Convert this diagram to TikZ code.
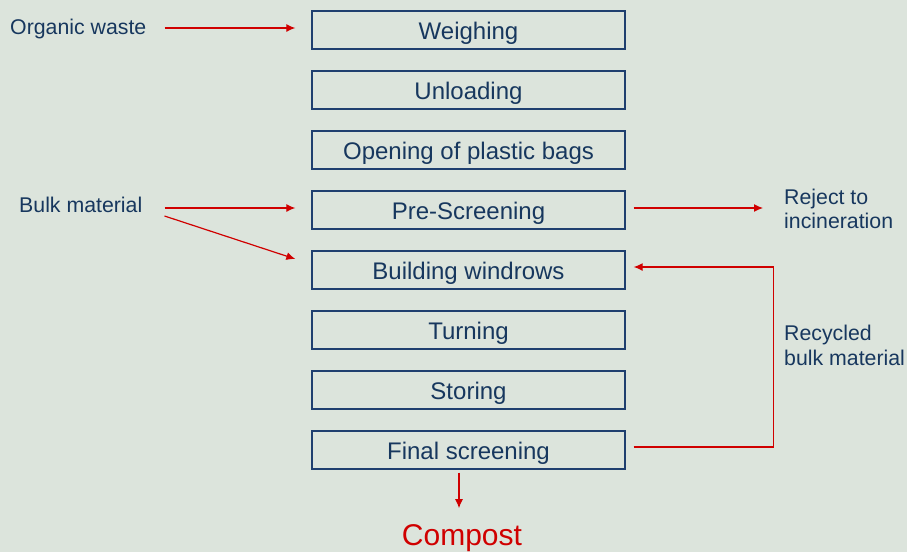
\documentclass[tikz,border=0pt]{standalone}
\usepackage{fontspec}
\setmainfont{Liberation Sans}
\usetikzlibrary{arrows.meta}
\definecolor{bg}{RGB}{220,228,220}
\definecolor{txtblue}{RGB}{23,55,94}
\definecolor{boxblue}{RGB}{31,63,111}
\definecolor{arrred}{RGB}{208,0,0}
\tikzset{
  stepbox/.style={draw=boxblue, line width=1.3pt, minimum width=313pt, minimum height=38pt, inner sep=0pt, text height=20pt, text depth=1.5pt, text=txtblue, font=\fontsize{24}{28}\selectfont},
  sidelabel/.style={anchor=west, inner sep=0pt, text=txtblue, align=left, font=\fontsize{21.3}{24.5}\selectfont},
  arr/.style={draw=arrred, line width=1.2pt, -{Latex[length=9pt,width=8pt]}},
}
\begin{document}
\begin{tikzpicture}[x=1pt,y=-1pt]
\fill[bg] (0,0) rectangle (907,552);
\useasboundingbox (0,0) rectangle (907,552);
\node[stepbox] (w) at (468.5,30) {Weighing};
\node[stepbox] (u) at (468.5,90) {Unloading};
\node[stepbox] (o) at (468.5,150) {Opening of plastic bags};
\node[stepbox] (p) at (468.5,210) {Pre-Screening};
\node[stepbox] (b) at (468.5,270) {Building windrows};
\node[stepbox] (t) at (468.5,330) {Turning};
\node[stepbox] (s) at (468.5,390) {Storing};
\node[stepbox] (f) at (468.5,450) {Final screening};
\node[sidelabel] (org) at (10,28.5) {Organic waste};
\node[sidelabel] (bulk) at (19,205) {Bulk material};
\node[sidelabel] (rej) at (784,209) {Reject to\\incineration};
\node[sidelabel] (rec) at (784,345.5) {Recycled\\bulk material};
\node[inner sep=0pt, text=arrred, font=\fontsize{30}{34}\selectfont] (c) at (462,538.5) {Compost};
\draw[arr] ([xshift=18pt,yshift=0.5pt]org.east) -- ([xshift=-16pt,yshift=2pt]w.west);
\draw[arr] ([shift={(22pt,-3pt)}]bulk.east) -- ([shift={(-16pt,2pt)}]p.west);
\draw[arr] ([shift={(22pt,-11pt)}]bulk.east) -- ([shift={(-16pt,11pt)}]b.west);
\draw[arr] ([shift={(8pt,2pt)}]p.east) -- ([shift={(-21pt,1pt)}]rej.west);
\draw[arr] ([shift={(8pt,3pt)}]f.east) -- ++(140,0) |- ([shift={(8pt,3pt)}]b.east);
\draw[arr] ([shift={(-9.5pt,-3pt)}]f.south) -- ([shift={(-3pt,16.5pt)}]c.north);
\end{tikzpicture}
\end{document}
